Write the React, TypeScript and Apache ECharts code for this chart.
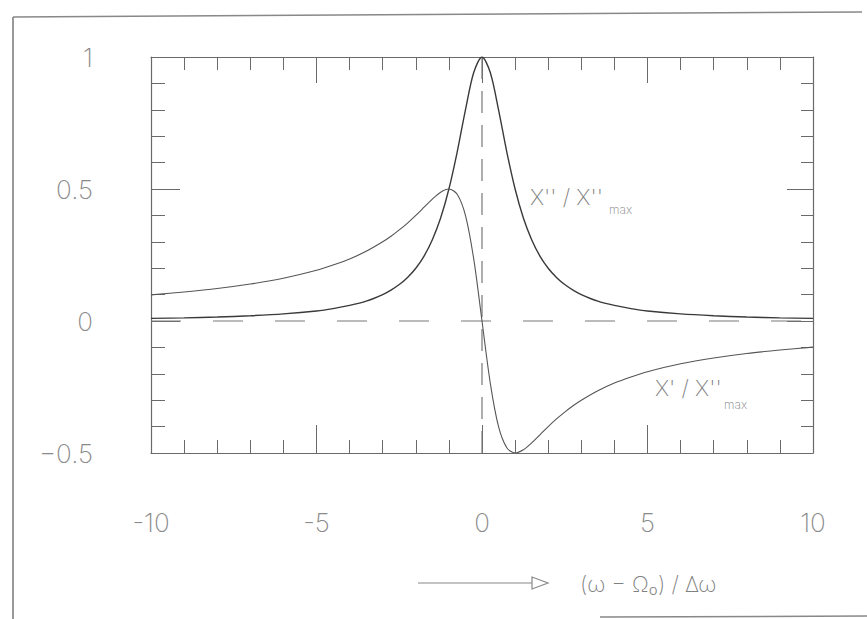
import React, { useEffect, useRef } from "react";
import * as echarts from "echarts";

const xValues = [-10, -9, -8, -7, -6, -5, -4.5, -4, -3.5, -3, -2.75, -2.5, -2.25, -2, -1.75, -1.5, -1.25, -1, -0.75, -0.5, -0.25, 0, 0.25, 0.5, 0.75, 1, 1.25, 1.5, 1.75, 2, 2.25, 2.5, 2.75, 3, 3.5, 4, 4.5, 5, 6, 7, 8, 9, 10];
const absorption = [0.010, 0.012, 0.015, 0.020, 0.027, 0.038, 0.047, 0.059, 0.075, 0.100, 0.117, 0.138, 0.165, 0.200, 0.246, 0.308, 0.390, 0.500, 0.640, 0.800, 0.941, 1.000, 0.941, 0.800, 0.640, 0.500, 0.390, 0.308, 0.246, 0.200, 0.165, 0.138, 0.117, 0.100, 0.075, 0.059, 0.047, 0.038, 0.027, 0.020, 0.015, 0.012, 0.010];
const dispersion = [0.099, 0.110, 0.123, 0.140, 0.162, 0.192, 0.212, 0.235, 0.264, 0.300, 0.321, 0.345, 0.371, 0.400, 0.431, 0.462, 0.488, 0.500, 0.480, 0.400, 0.235, 0.000, -0.235, -0.400, -0.480, -0.500, -0.488, -0.462, -0.431, -0.400, -0.371, -0.345, -0.321, -0.300, -0.264, -0.235, -0.212, -0.192, -0.162, -0.140, -0.123, -0.110, -0.099];
const xTicks = [-10, -5, 0, 5, 10];
const yTicks = [-0.5, 0, 0.5, 1];

const GRAY = "#8a8a8a";
const AXIS = "#6a6a6a";
const FONT = "Inter, 'Liberation Sans', sans-serif";

export default function App() {
  const ref = useRef<HTMLDivElement>(null);
  useEffect(() => {
    document.body.style.margin = "0";
    const chart = echarts.init(ref.current!, null, { renderer: "svg" });
    const tickCommon = (len: number) => ({ show: true, inside: true, length: len, lineStyle: { color: AXIS, width: 1 } });
    const minorCommon = (len: number) => ({ show: true, splitNumber: 5, length: len, lineStyle: { color: AXIS, width: 1 } });
    const line = () => ({ show: true, onZero: false, lineStyle: { color: AXIS, width: 1.2 } });
    chart.setOption({
      animation: false,
      backgroundColor: "#ffffff",
      grid: { left: 151, top: 57, right: 54, bottom: 166, show: false },
      xAxis: [
        {
          type: "value", min: xTicks[0], max: xTicks[xTicks.length - 1], interval: 5, position: "bottom",
          axisLine: line(),
          axisTick: tickCommon(28), minorTick: minorCommon(13), splitLine: { show: false }, minorSplitLine: { show: false },
          axisLabel: { show: true, margin: 56, color: GRAY, fontSize: 26, fontFamily: FONT, fontWeight: 200 },
        },
        {
          type: "value", min: xTicks[0], max: xTicks[xTicks.length - 1], interval: 5, position: "top",
          axisLine: line(),
          axisTick: tickCommon(26), minorTick: minorCommon(13), splitLine: { show: false },
          axisLabel: { show: false },
        },
      ],
      yAxis: [
        {
          type: "value", min: yTicks[0], max: yTicks[yTicks.length - 1], interval: 0.5, position: "left",
          axisLine: line(),
          axisTick: tickCommon(29), minorTick: minorCommon(14), splitLine: { show: false },
          axisLabel: { show: true, margin: 58, color: GRAY, fontSize: 26, fontFamily: FONT, fontWeight: 200, formatter: (v: number) => (v < 0 ? "\u2212" + Math.abs(v) : String(v)) },
        },
        {
          type: "value", min: yTicks[0], max: yTicks[yTicks.length - 1], interval: 0.5, position: "right",
          axisLine: line(),
          axisTick: tickCommon(26), minorTick: minorCommon(12), splitLine: { show: false },
          axisLabel: { show: false },
        },
      ],
      series: [
        {
          type: "line", data: [[xTicks[0], 0], [xTicks[xTicks.length - 1], 0]], symbol: "none", silent: true,
          lineStyle: { color: "#777", width: 1, type: [30, 32] },
        },
        {
          type: "line", data: [[0, yTicks[0]], [0, yTicks[yTicks.length - 1]]], symbol: "none", silent: true,
          lineStyle: { color: "#777", width: 1.2, type: [22, 12] },
        },
        {
          name: "X''/X''max", type: "line", smooth: 0.3, symbol: "none",
          data: xValues.map((x, i) => [x, absorption[i]]),
          lineStyle: { color: "#3a3a3a", width: 1.4 },
        },
        {
          name: "X'/X''max", type: "line", smooth: 0.3, symbol: "none",
          data: xValues.map((x, i) => [x, dispersion[i]]),
          lineStyle: { color: "#555", width: 1.1 },
        },
      ],
      graphic: [
        { type: "line", shape: { x1: 13, y1: 17, x2: 13, y2: 619 }, style: { stroke: "#777", lineWidth: 1.5 } },
        { type: "line", shape: { x1: 13, y1: 17, x2: 862, y2: 12 }, style: { stroke: "#888", lineWidth: 1.5 } },
        { type: "line", shape: { x1: 600, y1: 617, x2: 867, y2: 616 }, style: { stroke: "#888", lineWidth: 1.5 } },
        { type: "text", x: 530, y: 197, style: { text: "X'' / X''", fill: "#808080", font: `200 22px ${FONT}`, textVerticalAlign: "middle" } },
        { type: "text", x: 609, y: 209, style: { text: "max", fill: "#808080", font: `200 12px ${FONT}`, textVerticalAlign: "middle" } },
        { type: "text", x: 655, y: 388, style: { text: "X' / X''", fill: "#808080", font: `200 22px ${FONT}`, textVerticalAlign: "middle" } },
        { type: "text", x: 724, y: 404, style: { text: "max", fill: "#808080", font: `200 12px ${FONT}`, textVerticalAlign: "middle" } },
        { type: "line", shape: { x1: 418, y1: 583, x2: 532, y2: 583 }, style: { stroke: "#888", lineWidth: 1.2 } },
        { type: "polygon", shape: { points: [[532, 577], [532, 589], [548, 583]] }, style: { fill: "none", stroke: "#888", lineWidth: 1.2 } },
        { type: "text", x: 580, y: 584, style: { text: "(\u03c9 \u2212 \u03a9\u2080) / \u0394\u03c9", fill: "#808080", font: `200 22px ${FONT}`, textVerticalAlign: "middle" } },
      ],
    });
    return () => chart.dispose();
  }, []);
  return <div ref={ref} style={{ position: "fixed", left: 0, top: 0, width: 867, height: 619 }} />;
}
